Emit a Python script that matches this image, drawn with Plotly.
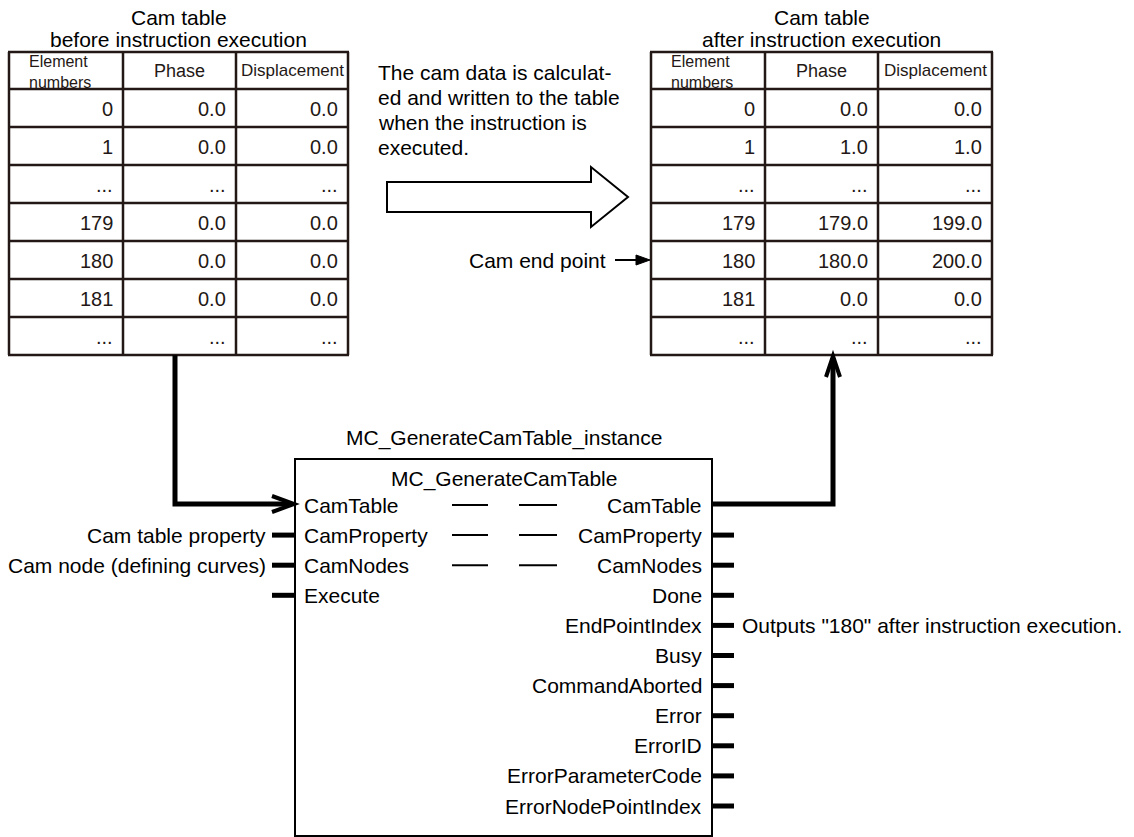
import plotly.graph_objects as go

# ---- data -------------------------------------------------------------
columns = ["Element<br>numbers", "Phase", "Displacement"]
element_numbers = ["0", "1", "...", "179", "180", "181", "..."]
phase_before = ["0.0", "0.0", "...", "0.0", "0.0", "0.0", "..."]
disp_before = ["0.0", "0.0", "...", "0.0", "0.0", "0.0", "..."]
phase_after = ["0.0", "1.0", "...", "179.0", "180.0", "0.0", "..."]
disp_after = ["0.0", "1.0", "...", "199.0", "200.0", "0.0", "..."]
end_point_row = 4

inputs = ["CamTable", "CamProperty", "CamNodes", "Execute"]
input_notes = ["", "Cam table property", "Cam node (defining curves)", ""]
outputs = ["CamTable", "CamProperty", "CamNodes", "Done", "EndPointIndex", "Busy",
           "CommandAborted", "Error", "ErrorID", "ErrorParameterCode", "ErrorNodePointIndex"]
output_notes = {"EndPointIndex": 'Outputs "180" after instruction execution.'}

note_lines = ["The cam data is calculat-", "ed and written to the table",
              "when the instruction is", "executed."]

# ---- layout constants ---------------------------------------------------
W, H = 1134, 837
FONT = "Liberation Sans, Arial, Helvetica, sans-serif"
INK = "#231815"
TOP, HEAD_BOT, ROW_H = 52, 89, 38
LEFT_COLS = [9, 123, 236, 348]
RIGHT_COLS = [651, 765, 878, 992]
BOX = dict(x0=295, x1=712, y0=459, y1=836)
PORT_Y0, PORT_DY = 505, 30.1

shapes = []
annotations = []


def text(x, y, s, size=21, xanchor="left", color="black", align="left"):
    annotations.append(dict(x=x, y=y, xref="x", yref="y", text=s, showarrow=False,
                            xanchor=xanchor, yanchor="middle", align=align,
                            font=dict(family=FONT, size=size, color=color)))


def line(x0, y0, x1, y1, w=2, color="black"):
    shapes.append(dict(type="line", xref="x", yref="y", x0=x0, y0=y0, x1=x1, y1=y1,
                       line=dict(color=color, width=w)))


def path(d, w=2, color="black", fill=None):
    s = dict(type="path", xref="x", yref="y", path=d, line=dict(color=color, width=w))
    if fill:
        s["fillcolor"] = fill
    shapes.append(s)


def cam_table(cols, title2, phase, disp):
    n = len(element_numbers)
    bottom = HEAD_BOT + n * ROW_H
    cx = (cols[0] + cols[-1]) / 2
    text(cx, 17, "Cam table", xanchor="center")
    text(cx, 39, title2, xanchor="center")
    # grid
    for x in cols:
        line(x, TOP, x, bottom, w=2.5, color=INK)
    for y in [TOP, HEAD_BOT] + [HEAD_BOT + (i + 1) * ROW_H for i in range(n)]:
        line(cols[0] - 1, y, cols[-1] + 1, y, w=2.5, color=INK)
    # header
    hy = (TOP + HEAD_BOT) / 2
    text(cols[0] + 18, hy + 1, columns[0], size=16, color=INK)
    text((cols[1] + cols[2]) / 2, hy, columns[1], size=18, xanchor="center", color=INK)
    text((cols[2] + cols[3]) / 2, hy, columns[2], size=17, xanchor="center", color=INK)
    # body
    for i, vals in enumerate(zip(element_numbers, phase, disp)):
        y = HEAD_BOT + (i + 0.5) * ROW_H + 1
        for j, v in enumerate(vals):
            text(cols[j + 1] - 8, y, v, size=20, xanchor="right", color=INK)
    return bottom


left_bot = cam_table(LEFT_COLS, "before instruction execution", phase_before, disp_before)
right_bot = cam_table(RIGHT_COLS, "after instruction execution", phase_after, disp_after)

# explanatory note and hollow arrow
for i, s in enumerate(note_lines):
    text(376, 72 + i * 25, s)
path("M387,182 L591,182 L591,167 L628,197 L591,227 L591,212 L387,212 Z", w=2, fill="white")

# cam end point marker
ey = HEAD_BOT + (end_point_row + 0.5) * ROW_H
text(608, ey, "Cam end point", xanchor="right")
line(615, ey, 638, ey, w=2)
path(f"M636,{ey - 5} L650,{ey} L636,{ey + 5} Z", w=1, fill="black")

# function block
shapes.append(dict(type="rect", xref="x", yref="y", line=dict(color="black", width=2),
                   fillcolor="rgba(0,0,0,0)", **BOX))
text((BOX["x0"] + BOX["x1"]) / 2, 438, "MC_GenerateCamTable_instance", xanchor="center")
text((BOX["x0"] + BOX["x1"]) / 2, 479, "MC_GenerateCamTable", xanchor="center")

for i, name in enumerate(inputs):
    y = PORT_Y0 + i * PORT_DY
    text(BOX["x0"] + 7, y, name)
    if i > 0:
        line(272, y, BOX["x0"], y, w=5)
    if input_notes[i]:
        text(268, y, input_notes[i], xanchor="right")
    if name in outputs[:3]:
        line(452, y, 488, y, w=2)
        line(519, y, 557, y, w=2)

for i, name in enumerate(outputs):
    y = PORT_Y0 + i * PORT_DY
    text(BOX["x1"] - 8, y, name, xanchor="right")
    if i > 0:
        line(BOX["x1"], y, 734, y, w=5)
    if name in output_notes:
        text(740, y, output_notes[name])

# thick connectors
cy = PORT_Y0 - 1
path(f"M175,{left_bot} L175,{cy} L292,{cy}", w=5)
path(f"M272,{cy - 8} L294,{cy} L272,{cy + 8}", w=4)
path(f"M{BOX['x1']},{cy} L833,{cy} L833,{right_bot + 3}", w=5)
path(f"M826,{right_bot + 22} L833,{right_bot + 1} L840,{right_bot + 22}", w=4)

fig = go.Figure()
fig.update_layout(
    width=W, height=H, margin=dict(l=0, r=0, t=0, b=0),
    paper_bgcolor="white", plot_bgcolor="white",
    xaxis=dict(range=[0, W], visible=False, fixedrange=True),
    yaxis=dict(range=[H, 0], visible=False, fixedrange=True),
    shapes=shapes, annotations=annotations, showlegend=False,
)
# the page body has a default 8px margin; drop it so the figure fills the window
fig.write_html("out.html", config={"displayModeBar": False},
               post_script="document.body.style.margin='0px';document.body.style.overflow='hidden';")
